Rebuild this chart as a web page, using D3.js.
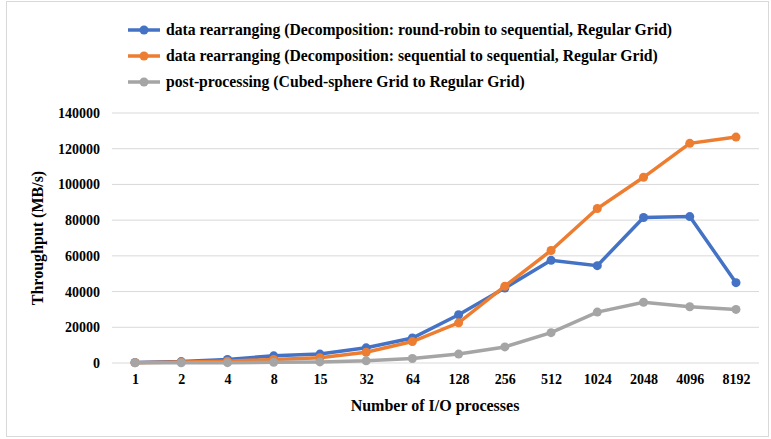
<!DOCTYPE html><html><head><script src="https://cdn.jsdelivr.net/npm/d3@7"></script>
<style>body{margin:0;background:#fff}text{font-family:"Liberation Serif",serif;font-weight:bold}</style></head><body>
<svg width="771" height="439"></svg>
<script>
const categories=["1","2","4","8","15","32","64","128","256","512","1024","2048","4096","8192"];
const blueVals=[300,800,2000,4000,5000,8500,14000,27000,42000,57500,54500,81500,82000,45000];
const orangeVals=[200,500,1000,2000,3000,6000,12000,22500,43000,63000,86500,104000,123000,126500];
const grayVals=[100,150,200,400,600,1200,2500,5000,9000,17000,28500,34000,31500,30000];
const seriesNames=["data rearranging (Decomposition: round-robin to sequential, Regular Grid)","data rearranging (Decomposition: sequential to sequential, Regular Grid)","post-processing (Cubed-sphere Grid to Regular Grid)"];
const colors=["#4472C4","#ED7D31","#A5A5A5"];
const yTicks=[0,20000,40000,60000,80000,100000,120000,140000];
const svg=d3.select("svg");
svg.append("rect").attr("x",6.5).attr("y",1.5).attr("width",762).attr("height",435).attr("fill","#fff").attr("stroke","#d9d9d9");
const x=d3.scalePoint().domain(categories).range([135,736]);
const y=d3.scaleLinear().domain([0,140000]).range([363,113]);
const grid=svg.append("g");
yTicks.forEach(t=>grid.append("line").attr("x1",112).attr("x2",759).attr("y1",y(t)).attr("y2",y(t)).attr("stroke","#d9d9d9"));
const ya=svg.append("g").attr("transform","translate(112,0)").call(d3.axisLeft(y).tickValues(yTicks).tickSize(0).tickPadding(12).tickFormat(d3.format("d")));
ya.select(".domain").remove();ya.selectAll("text").attr("font-size",14).attr("fill","#000");
const xa=svg.append("g").attr("transform","translate(0,363)").call(d3.axisBottom(x).tickSize(0).tickPadding(11));
xa.select(".domain").remove();xa.selectAll("text").attr("font-size",14).attr("fill","#000");
svg.append("text").attr("x",435).attr("y",411).attr("text-anchor","middle").attr("font-size",16).text("Number of I/O processes");
svg.append("text").attr("transform","translate(43,238) rotate(-90)").attr("text-anchor","middle").attr("font-size",16).text("Throughput  (MB/s)");
const data=[blueVals,orangeVals,grayVals];
const line=d3.line().x((d,i)=>x(categories[i])).y(d=>y(d));
data.forEach((vals,k)=>{
 svg.append("path").datum(vals).attr("d",line).attr("fill","none").attr("stroke",colors[k]).attr("stroke-width",3.5);
 svg.selectAll(null).data(vals).enter().append("circle").attr("cx",(d,i)=>x(categories[i])).attr("cy",d=>y(d)).attr("r",4.5).attr("fill",colors[k]);
});
seriesNames.forEach((n,k)=>{
 const ly=30+k*26;
 svg.append("line").attr("x1",128).attr("x2",160).attr("y1",ly).attr("y2",ly).attr("stroke",colors[k]).attr("stroke-width",3.5);
 svg.append("circle").attr("cx",144).attr("cy",ly).attr("r",4.5).attr("fill",colors[k]);
 svg.append("text").attr("x",166).attr("y",ly+5).attr("font-size",15.7).text(n);
});
</script></body></html>
